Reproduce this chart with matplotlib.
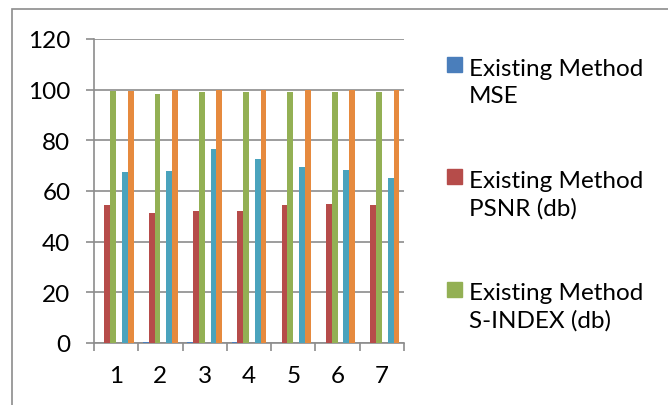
import numpy as np
import matplotlib
matplotlib.use('Agg')
import matplotlib.pyplot as plt
from matplotlib.patches import Rectangle

plt.rcParams['font.family'] = ['Lato', 'DejaVu Sans']

groups = [1, 2, 3, 4, 5, 6, 7]
ex_mse = [0.1, 0.3, 0.3, 0.3, 0.1, 0.1, 0.1]
ex_psnr = [54.5, 51.4, 52.0, 52.0, 54.3, 54.9, 54.3]
ex_sindex = [99.3, 98.4, 99.1, 99.2, 99.2, 99.1, 99.2]
pr_mse = [0.05, 0.05, 0.05, 0.05, 0.05, 0.05, 0.05]
pr_psnr = [67.6, 68.0, 76.6, 72.7, 69.4, 68.1, 65.1]
pr_sindex = [99.3, 100.0, 100.0, 100.0, 100.0, 99.7, 99.7]

series = [ex_mse, ex_psnr, ex_sindex, pr_mse, pr_psnr, pr_sindex]
colors = ['#4A7EBB', '#B64C4A', '#93B054', '#7D60A0', '#4AA3BD', '#E68A3E']
legend_labels = ['Existing Method\nMSE', 'Existing Method\nPSNR (db)', 'Existing Method\nS-INDEX (db)']

W, H = 668, 406
fig = plt.figure(figsize=(W / 100, H / 100), dpi=100)

# outer chart frame (cut off at right and bottom like the screenshot)
fig.patches.append(Rectangle((12 / W, -0.1), 1.1, 1 - 10 / H + 0.1, transform=fig.transFigure,
                             fill=False, edgecolor='#8C8C8C', linewidth=1.2))

ax = fig.add_axes([94 / W, (H - 344) / H, 310 / W, 304 / H])

x = np.array(groups, dtype=float)
bw = 0.1316
for i, (vals, c) in enumerate(zip(series, colors)):
    ax.bar(x + (i - 2.5) * bw, vals, bw, color=c, zorder=3)

ax.set_ylim(0, 120)
ax.set_xlim(0.5, 7.5)
ax.set_yticks(range(0, 121, 20))
ax.grid(axis='y', color='#8C8C8C', linewidth=1.2, zorder=0)

ax.set_xticks(np.arange(0.5, 8, 1))
ax.set_xticklabels([])
ax.set_xticks(x, minor=True)
ax.set_xticklabels([str(g) for g in groups], minor=True)
ax.tick_params(axis='x', which='major', length=6, width=1.2, color='#8C8C8C', direction='out')
ax.tick_params(axis='x', which='minor', length=0, pad=16, labelsize=17.5)
ax.tick_params(axis='y', length=6, width=1.2, color='#8C8C8C', direction='out', pad=11, labelsize=17.5)

for s in ['top', 'right']:
    ax.spines[s].set_visible(False)
for s in ['left', 'bottom']:
    ax.spines[s].set_color('#8C8C8C')
    ax.spines[s].set_linewidth(1.2)

# legend drawn by hand: marker aligned with first text line
for k, lab in enumerate(legend_labels):
    yc = 65 + k * 112.5
    fig.patches.append(Rectangle((447 / W, (H - yc - 7.5) / H), 15 / W, 15 / H,
                                 transform=fig.transFigure, color=colors[k]))
    # baseline of the second line sits about 38 px below the first line's centre
    fig.text(469 / W, (H - yc - 38) / H, lab, fontsize=17.5, va='baseline', ha='left',
             linespacing=1.36)

fig.savefig('out.png', dpi=100)
